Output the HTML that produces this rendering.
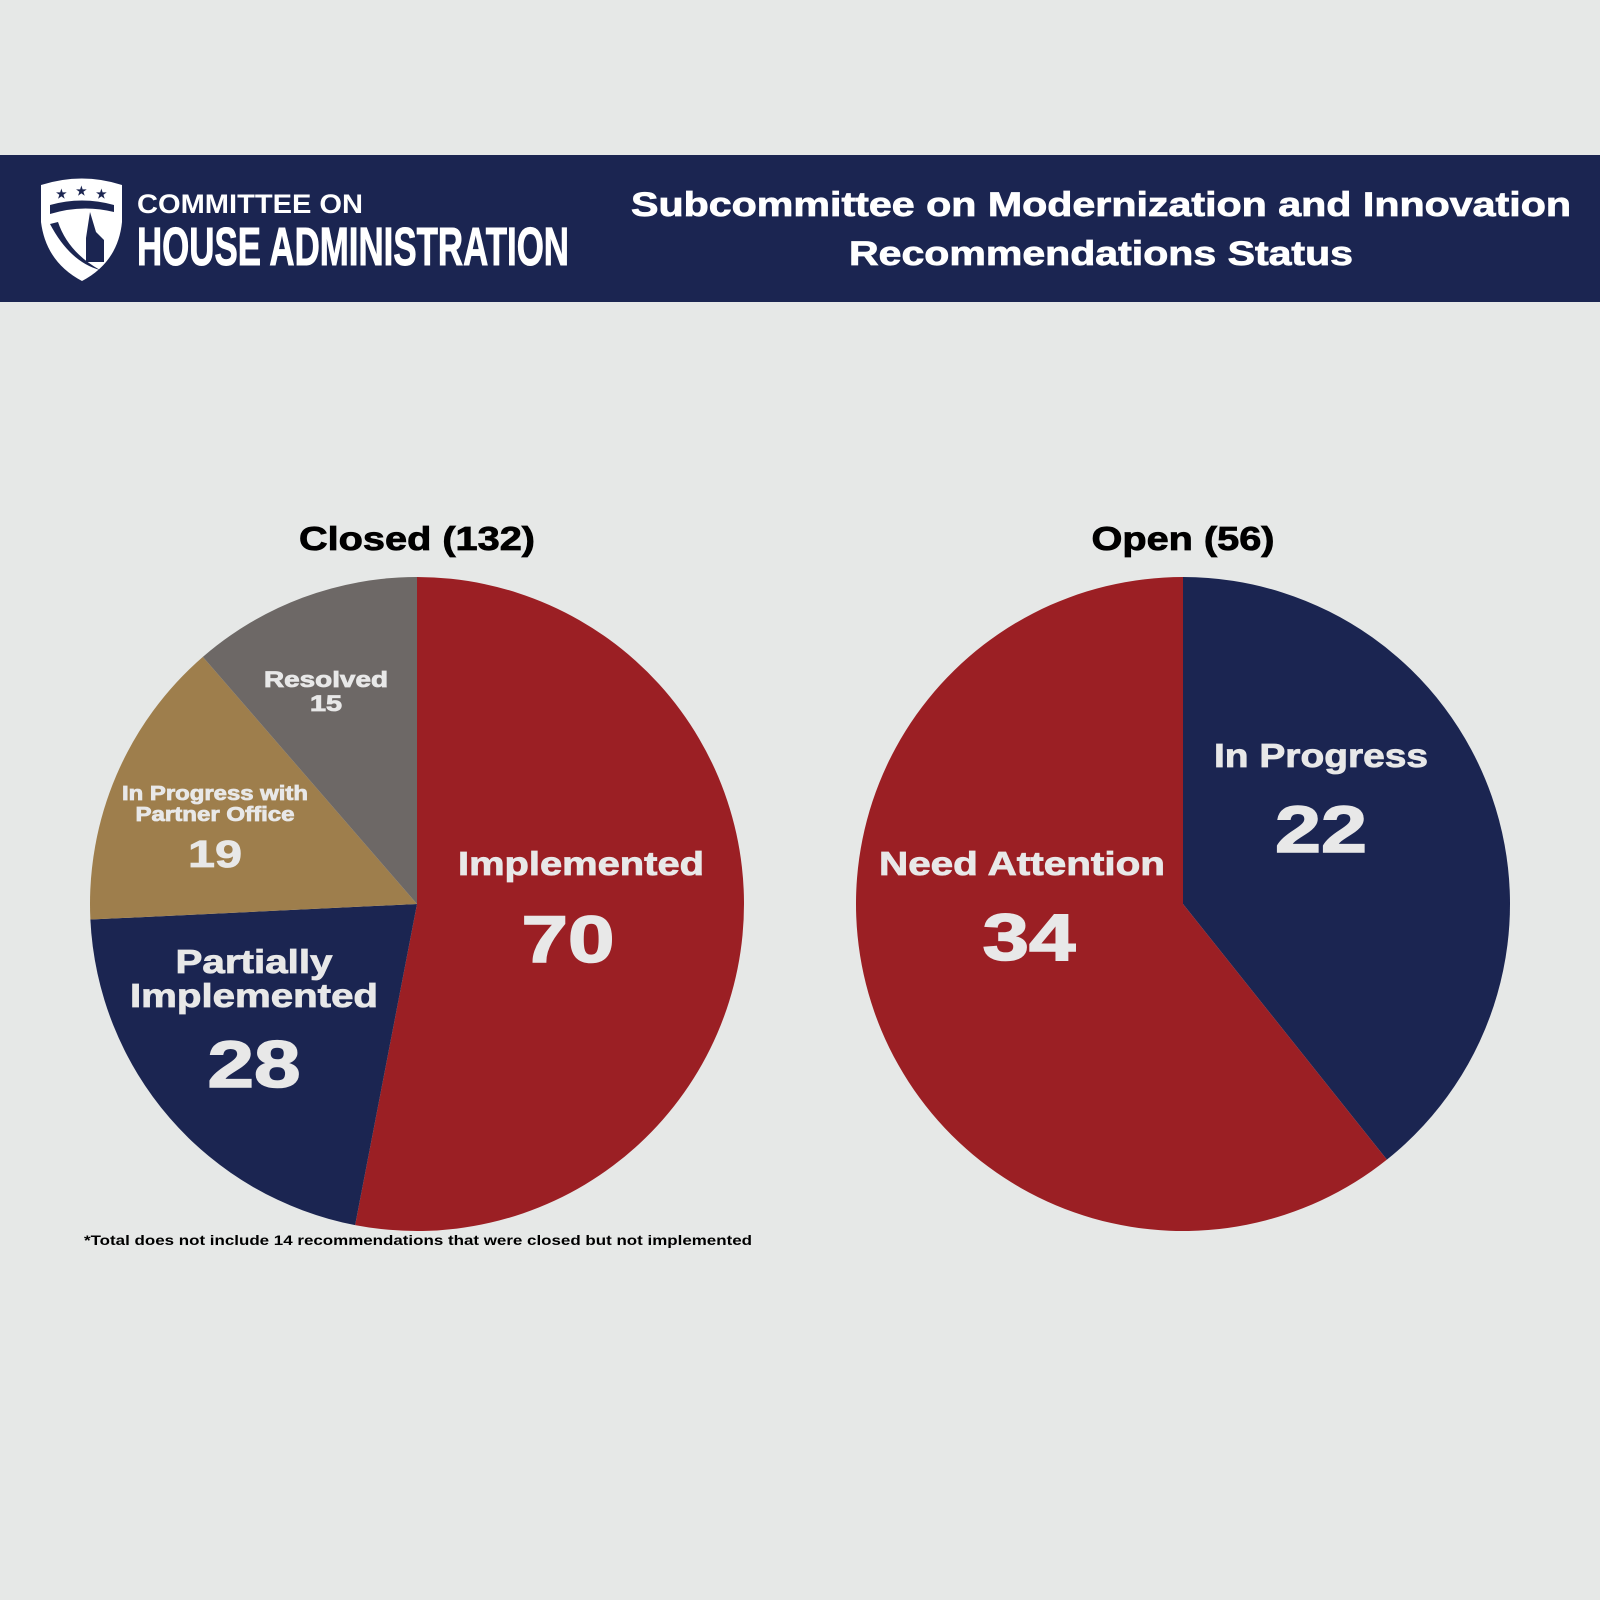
<!DOCTYPE html>
<html><head><meta charset="utf-8"><style>
html,body{margin:0;padding:0;background:#e6e8e7}
svg{display:block}
text{font-family:"Liberation Sans",sans-serif;font-weight:bold}
</style></head><body>
<svg id="chart" width="1600" height="1600" viewBox="0 0 1600 1600" xmlns="http://www.w3.org/2000/svg">
<rect width="1600" height="1600" fill="#e6e8e7"/>
<g>
<rect x="0" y="155" width="1600" height="147" fill="#1b2551"/>
<g>
<path d="M41 185 Q82 172 122 185 L122 222 Q118 262 82 281 Q46 262 41 222 Z" fill="#fff"/>
<path d="M50 205 Q82 196 114 205 L114 212 Q82 204 50 214 Z" fill="#1b2551"/>
<path d="M50 224 Q70 262 100 270 Q68 252 58 222 Z" fill="#1b2551"/>
<path d="M90 212 L96 232 L104 240 L104 262 L86 262 L86 238 Z" fill="#1b2551"/>
<text x="56" y="198" font-size="12" fill="#1b2551">★</text><text x="76" y="195" font-size="12" fill="#1b2551">★</text><text x="96" y="198" font-size="12" fill="#1b2551">★</text>
</g>
<text x="137" y="213" font-size="27" fill="#fff" textLength="226" lengthAdjust="spacingAndGlyphs">COMMITTEE ON</text>
<text x="137" y="265" font-size="54" fill="#fff" stroke="#fff" stroke-width="1" textLength="432" lengthAdjust="spacingAndGlyphs">HOUSE ADMINISTRATION</text>
<text x="1101" y="216" font-size="34" fill="#fff" stroke="#fff" stroke-width="0.8" text-anchor="middle" textLength="940" lengthAdjust="spacingAndGlyphs">Subcommittee on Modernization and Innovation</text>
<text x="1101" y="265" font-size="34" fill="#fff" stroke="#fff" stroke-width="0.8" text-anchor="middle" textLength="504" lengthAdjust="spacingAndGlyphs">Recommendations Status</text>
</g>
<text x="417" y="550" font-size="33" fill="#000" stroke="#000" stroke-width="0.8" text-anchor="middle" textLength="236" lengthAdjust="spacingAndGlyphs">Closed (132)</text>
<text x="1183" y="550" font-size="33" fill="#000" stroke="#000" stroke-width="0.8" text-anchor="middle" textLength="183" lengthAdjust="spacingAndGlyphs">Open (56)</text>
<g id="closedPie"></g>
<g id="openPie"></g>
<g id="labels"></g>
<text x="84" y="1245" font-size="14" fill="#000" textLength="668" lengthAdjust="spacingAndGlyphs">*Total does not include 14 recommendations that were closed but not implemented</text>
</svg>
<script>
const closedCategories = ["Implemented","Partially Implemented","In Progress with Partner Office","Resolved"];
const closedValues = [70,28,19,15];
const openCategories = ["In Progress","Need Attention"];
const openValues = [22,34];
const closedColors = ["#9b1f24","#1b2551","#9e7e4c","#6d6866"];
const openColors = ["#1b2551","#9b1f24"];
const NS="http://www.w3.org/2000/svg";
function drawPie(gId,cx,cy,r,vals,cats,cols){
  const g=document.getElementById(gId);
  const tot=vals.reduce((a,b)=>a+b,0);
  let a0=0;
  vals.forEach((v,i)=>{
    const a1=a0+v/tot*2*Math.PI;
    const x0=cx+r*Math.sin(a0),y0=cy-r*Math.cos(a0),x1=cx+r*Math.sin(a1),y1=cy-r*Math.cos(a1);
    const p=document.createElementNS(NS,"path");
    p.setAttribute("d",`M${cx} ${cy} L${x0} ${y0} A${r} ${r} 0 ${(a1-a0)>Math.PI?1:0} 1 ${x1} ${y1} Z`);
    p.setAttribute("fill",cols[i]);
    
    
    g.appendChild(p);
    a0=a1;
  });
}
drawPie("closedPie",417,904,327,closedValues,closedCategories,closedColors);
drawPie("openPie",1183,904,327,openValues,openCategories,openColors);
const L=document.getElementById("labels");
function lab(x,y,s,t,name,w){
  const e=document.createElementNS(NS,"text");
  e.setAttribute("x",x);e.setAttribute("y",y);e.setAttribute("font-size",s);
  e.setAttribute("fill","#e8e8e8");e.setAttribute("text-anchor","middle");
  e.setAttribute("stroke","#e8e8e8");e.setAttribute("stroke-width",s>40?1.5:0.8);
  e.setAttribute("textLength",w);e.setAttribute("lengthAdjust","spacingAndGlyphs");
  e.textContent=t;
  
  
  L.appendChild(e);
}
lab(581,875,33,"Implemented","label-implemented",246);
lab(568,962,66,String(closedValues[0]),"value-implemented",93);
lab(254,973,33,"Partially","label-partially",157);
lab(254,1007,33,"Implemented","label-partially-implemented",248);
lab(254,1087,66,String(closedValues[1]),"value-partially-implemented",93);
lab(215,800,20,"In Progress with","label-in-progress-partner",186);
lab(215,821,20,"Partner Office","label-partner-office",159);
lab(215,867,38,String(closedValues[2]),"value-in-progress-partner",54);
lab(326,687,22,"Resolved","label-resolved",124);
lab(326,711,22,String(closedValues[3]),"value-resolved",32);
lab(1022,875,33,"Need Attention","label-need-attention",286);
lab(1029,960,66,String(openValues[1]),"value-need-attention",93);
lab(1321,767,33,"In Progress","label-in-progress",214);
lab(1321,852,66,String(openValues[0]),"value-in-progress",92);
</script>
</body></html>
